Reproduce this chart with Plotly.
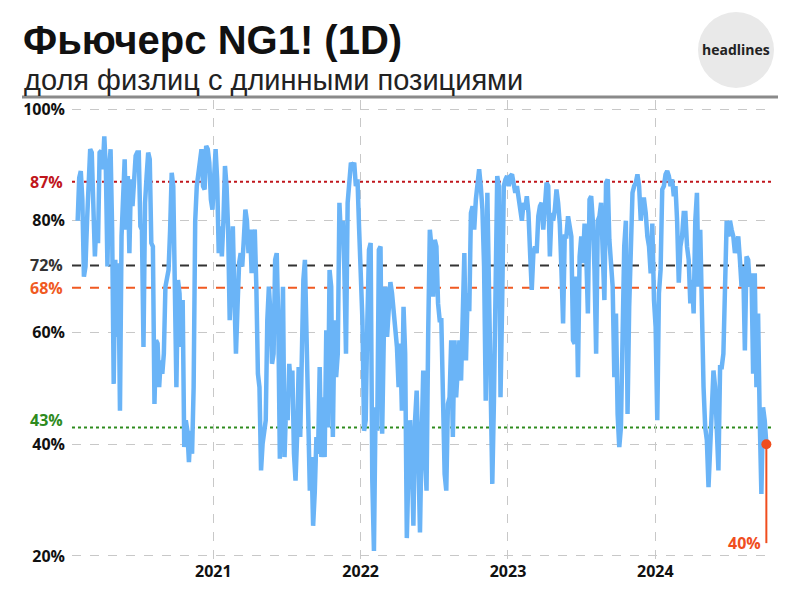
import pandas as pd
import plotly.graph_objects as go

# ---- data ----
seg_bounds = [("2020-01-31", "2021-08-16"), ("2021-08-20", "2023-03-09"), ("2023-03-13", "2024-10-02")]

seg1 = [80, 87.7, 88.9, 83.8, 70, 71.8, 80, 88, 92.8, 92.2, 81.4, 73.6, 80, 76, 92.2, 92.5, 89.2, 95.1, 89.2, 71.8,
        88.6, 92.8, 78.4, 50.8, 73, 59.2, 72.4, 46, 77.2, 86.2, 91, 78.4, 88, 74.2, 87.4, 82.6, 86.2, 91.6, 92.2, 92.2,
        79, 78.4, 57.4, 83.2, 88, 92.2, 91, 76, 75.4, 47.2, 58.6, 58, 50.2, 55, 52.6, 56.2, 68.2, 69.4, 71.2, 78.4,
        88.6, 86.2, 73, 50.2, 69.4, 67, 57.4, 65.8, 39.5, 44.3, 42.4, 36.8, 42.4, 38.3, 50.2, 80, 86.2, 88, 90.4, 92.8,
        86.2, 85.6, 93.4, 92.8, 90.4, 83.8, 82, 90.4, 92.8, 87.4, 74.2, 79, 73.6, 80, 89.8, 86.2, 78.4, 62.2, 69.4, 79,
        66.4, 56.2, 64.6, 72.4, 74.2, 71.8, 76.6, 82, 80, 74.2, 78.4, 70.6, 77.2, 78.4, 68.2, 52.6, 50.2, 35.3, 40.1, 42.4,
        44.3, 62.2, 68.2, 63.4, 54.4, 56.2, 73, 74.2, 62.2, 37.4, 49, 68.2, 37.7, 47.2, 44.3, 54.4, 50.2, 53.2, 38.3, 33.5,
        41.3, 53.8, 41.3, 62.2, 69.4, 73]

seg2 = [59.2, 38.3, 31.7, 37.7, 25.4, 31.4, 41.3, 38.3, 53.8, 37.7, 48.4, 37.7, 60.4, 43, 71.2, 68.2, 41.3, 62.2, 52, 56.2,
        83.2, 76.6, 80, 71.2, 56.2, 83.2, 87.4, 90.4, 89.8, 90.4, 86.2, 87.4, 78.4, 71.2, 62.2, 42.4, 44.3, 62.2, 74.8, 76,
        33.5, 20.9, 46.6, 42.4, 74.8, 75.4, 41.9, 59.2, 68.2, 59.2, 64.6, 69, 67, 63.4, 62.2, 57.4, 50.2, 58, 46, 64.6,
        56.2, 23.2, 35.3, 44.3, 38.3, 25.4, 44.3, 49.6, 38.3, 24.2, 40.7, 53.2, 38.3, 31.7, 59.8, 78.4, 75.4, 66.4, 76.6, 75.4,
        65.2, 62.2, 62.2, 50.2, 34.7, 31.7, 47.2, 48.4, 58.6, 41.3, 58.6, 48.4, 53.2, 58.6, 51.4, 65.8, 74.2, 55, 67, 63.8,
        81.4, 82.6, 78.4, 83.8, 86.2, 89.2, 86.2, 82, 71.8, 47.8, 85, 68.2, 61, 32.9, 47.8, 68.2, 88, 86.2, 48.4, 65.2,
        86.2, 87.4, 88, 86.2, 88, 88.3, 86.8, 85, 86.2, 83.8, 82.6, 80, 83.2, 82, 84.4, 81.4, 74.2, 67.6, 74.2, 75.4]

seg3 = [74.2, 80.8, 82.6, 83.2, 78.4, 82, 86.8, 86.2, 73.6, 81.4, 80, 82, 85.6, 83.2, 79.5, 71.2, 61.6, 77.2, 77.2, 80.8,
        78.4, 77.2, 58.6, 58, 70, 52, 73.6, 77.2, 72.4, 79.5, 74.2, 63.4, 83.8, 84.4, 80, 71.2, 56.2, 80, 80.8, 83.2,
        74.2, 65.8, 86.8, 87.4, 76.6, 71.8, 68.2, 52, 63.4, 45.4, 39.5, 43, 63.4, 75.4, 80, 45.4, 64.6, 74.2, 85, 86.2,
        86.8, 88.3, 86.2, 80, 83.8, 83.8, 81.4, 77.2, 75.4, 70.6, 79.5, 65.8, 61, 44.3, 67, 71.2, 85.6, 86.2, 88.3, 88.9,
        88, 86.2, 87.4, 84.4, 86.2, 80, 68.9, 75.4, 77.2, 81.4, 81.4, 75.4, 73, 65.2, 69.4, 63.4, 80, 85, 68.2, 78.4,
        62.2, 50.2, 43, 40.7, 32.3, 38.3, 44.3, 53.2, 50.2, 40.7, 35.3, 53.8, 53.8, 56.2, 65.2, 80, 77.2, 80, 78.4, 77.2,
        74.2, 76, 77.2, 73, 68.2, 71.8, 56.8, 73.6, 73, 68.2, 70.6, 52.6, 70.6, 50.2, 63.4, 44.3, 31.1, 46.6, 44.3, 40]

year_ticks = ["2021-01-01", "2022-01-01", "2023-01-01", "2024-01-01"]
year_labels = ["2021", "2022", "2023", "2024"]
y_ticks = [20, 40, 60, 80, 100]
y_labels = ["20%", "40%", "60%", "80%", "100%"]

ref_levels = [87, 72, 68, 43]
ref_labels = ["87%", "72%", "68%", "43%"]
ref_colors = ["#c0161c", "#333333", "#f05a22", "#2e8b1e"]
ref_dash = ["dot", "dash", "dash", "dot"]
ref_label_shift = [0, 0, 0, 7]

last_label = "40%"
title = "Фьючерс NG1! (1D)"
subtitle = "доля физлиц с длинными позициями"

# ---- build series ----
dates = []
values = []
for (s, e), seg in zip(seg_bounds, [seg1, seg2, seg3]):
    dates += list(pd.date_range(s, e, periods=len(seg)))
    values += seg

# ---- layout geometry ----
W, H = 800, 594
L, R, T, B = 72, 772, 100, 560
def px(x):
    return (x - L) / (R - L)
def py(y):
    return (B - y) / (B - T)

fig = go.Figure()
fig.add_trace(go.Scatter(x=dates, y=values, mode="lines",
                         line=dict(color="#6ab4f7", width=4.5), hoverinfo="skip"))
fig.add_trace(go.Scatter(x=[dates[-1]], y=[values[-1]], mode="markers",
                         marker=dict(color="#f04e1e", size=10), hoverinfo="skip"))

shapes = []
for lv, c, d in zip(ref_levels, ref_colors, ref_dash):
    shapes.append(dict(type="line", xref="paper", yref="y", x0=0, x1=1, y0=lv, y1=lv,
                       line=dict(color=c, width=2, dash=d), layer="below"))
# marker drop line
shapes.append(dict(type="line", xref="x", yref="y", x0=dates[-1], x1=dates[-1], y0=values[-1], y1=22.3,
                   line=dict(color="#f04e1e", width=2)))
# header separator
shapes.append(dict(type="line", xref="paper", yref="paper", x0=px(22), x1=px(778), y0=py(97), y1=py(97),
                   line=dict(color="#8a8a8a", width=3)))
# logo circle
shapes.append(dict(type="circle", xref="paper", yref="paper", x0=px(698), x1=px(774), y0=py(88), y1=py(12),
                   fillcolor="#e9e9e9", line=dict(width=0)))

annotations = []
for lv, lab, c, sh in zip(ref_levels, ref_labels, ref_colors, ref_label_shift):
    annotations.append(dict(xref="paper", yref="y", x=0, y=lv, text="<b>%s</b>" % lab, showarrow=False,
                            xanchor="right", yanchor="middle", xshift=-7, yshift=sh,
                            font=dict(family="Open Sans", size=16, color=c)))
annotations.append(dict(xref="x", yref="y", x=dates[-1], y=22.3, text="<b>%s</b>" % last_label, showarrow=False,
                        xanchor="right", yanchor="middle", xshift=-3,
                        font=dict(family="Open Sans", size=16, color="#f04e1e")))
annotations.append(dict(xref="paper", yref="paper", x=px(21), y=py(40), text="<b>%s</b>" % title, showarrow=False,
                        xanchor="left", yanchor="middle",
                        font=dict(family="Liberation Sans", size=40, color="#111111")))
annotations.append(dict(xref="paper", yref="paper", x=px(22), y=py(80), text=subtitle, showarrow=False,
                        xanchor="left", yanchor="middle",
                        font=dict(family="Liberation Sans", size=29, color="#222222")))
annotations.append(dict(xref="paper", yref="paper", x=px(736), y=py(50), text="<b>headlines</b>", showarrow=False,
                        xanchor="center", yanchor="middle",
                        font=dict(family="Open Sans", size=14, color="#222222")))

fig.update_layout(
    width=W, height=H, margin=dict(l=L, r=W - R, t=T, b=H - B),
    paper_bgcolor="white", plot_bgcolor="white", showlegend=False,
    shapes=shapes, annotations=annotations,
    xaxis=dict(range=["2020-01-17", "2024-10-16"], tickvals=year_ticks,
               ticktext=["<b>%s</b>" % t for t in year_labels],
               showgrid=True, gridcolor="#c8c8c8", griddash="dash", gridwidth=1,
               zeroline=False, showline=False, ticks="",
               tickfont=dict(family="Open Sans", size=16, color="#111111"), tickangle=0),
    yaxis=dict(range=[19.28, 101.61], tickvals=y_ticks, ticktext=["<b>%s</b>" % t for t in y_labels],
               showgrid=True, gridcolor="#c8c8c8", griddash="dash", gridwidth=1,
               zeroline=False, showline=False, ticks="", ticklabelstandoff=6,
               tickfont=dict(family="Open Sans", size=16, color="#111111")),
)
fig.write_html("out.html")
